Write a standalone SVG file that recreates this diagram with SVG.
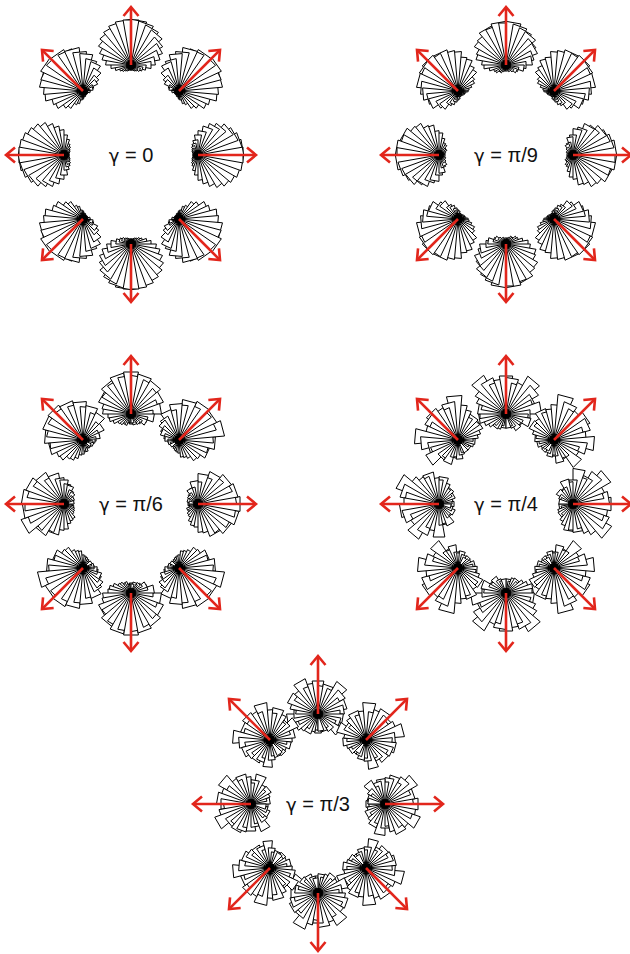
<svg xmlns="http://www.w3.org/2000/svg" xmlns:xlink="http://www.w3.org/1999/xlink" width="630" height="954" viewBox="0 0 630 954">
<style>
.w{fill:#fff;stroke:#000;stroke-width:1;vector-effect:non-scaling-stroke;stroke-linejoin:bevel}
.c{fill:#000}
.arr{fill:none;stroke:#e2261c;stroke-width:2.6;stroke-linecap:butt;stroke-linejoin:miter}
.lab{font-family:"Liberation Sans",Arial,sans-serif;font-size:20px;fill:#111;text-anchor:middle}
.g{font-family:"DejaVu Sans",sans-serif;font-size:18px}
</style>
<defs>
<polygon id="w" class="w" points="0,0 -0.1763,-1 0.1763,-1"/>
<g id="arr" class="arr"><line x1="0" y1="0" x2="0" y2="-57"/><polyline points="-7.5,-49 0,-58 7.5,-49"/></g>

<g id="g0a">
<use href="#w" transform="rotate(-180) scale(5)"/><use href="#w" transform="rotate(-170) scale(5)"/><use href="#w" transform="rotate(-160) scale(5)"/><use href="#w" transform="rotate(-150) scale(6)"/><use href="#w" transform="rotate(-140) scale(7)"/><use href="#w" transform="rotate(-130) scale(8)"/><use href="#w" transform="rotate(-120) scale(10)"/><use href="#w" transform="rotate(-110) scale(12)"/><use href="#w" transform="rotate(-100) scale(16)"/><use href="#w" transform="rotate(-90) scale(20)"/><use href="#w" transform="rotate(-80) scale(25)"/><use href="#w" transform="rotate(-70) scale(29)"/><use href="#w" transform="rotate(-60) scale(33)"/><use href="#w" transform="rotate(-50) scale(37)"/><use href="#w" transform="rotate(-40) scale(40)"/><use href="#w" transform="rotate(-30) scale(42)"/><use href="#w" transform="rotate(-20) scale(44)"/><use href="#w" transform="rotate(-10) scale(45)"/><use href="#w" transform="rotate(0) scale(45)"/><use href="#w" transform="rotate(10) scale(45)"/><use href="#w" transform="rotate(20) scale(44)"/><use href="#w" transform="rotate(30) scale(42)"/><use href="#w" transform="rotate(40) scale(40)"/><use href="#w" transform="rotate(50) scale(36)"/><use href="#w" transform="rotate(60) scale(33)"/><use href="#w" transform="rotate(70) scale(29)"/><use href="#w" transform="rotate(80) scale(24)"/><use href="#w" transform="rotate(90) scale(20)"/><use href="#w" transform="rotate(100) scale(15)"/><use href="#w" transform="rotate(110) scale(12)"/><use href="#w" transform="rotate(120) scale(10)"/><use href="#w" transform="rotate(130) scale(8)"/><use href="#w" transform="rotate(140) scale(7)"/><use href="#w" transform="rotate(150) scale(6)"/><use href="#w" transform="rotate(160) scale(5)"/><use href="#w" transform="rotate(170) scale(5)"/>
<circle class="c" r="5"/>
</g>
<g id="g0b">
<use href="#w" transform="rotate(-180) scale(4)"/><use href="#w" transform="rotate(-170) scale(5)"/><use href="#w" transform="rotate(-160) scale(5)"/><use href="#w" transform="rotate(-150) scale(6)"/><use href="#w" transform="rotate(-140) scale(6)"/><use href="#w" transform="rotate(-130) scale(8)"/><use href="#w" transform="rotate(-120) scale(9)"/><use href="#w" transform="rotate(-110) scale(13)"/><use href="#w" transform="rotate(-100) scale(15)"/><use href="#w" transform="rotate(-90) scale(21)"/><use href="#w" transform="rotate(-80) scale(24)"/><use href="#w" transform="rotate(-70) scale(30)"/><use href="#w" transform="rotate(-60) scale(32)"/><use href="#w" transform="rotate(-50) scale(38)"/><use href="#w" transform="rotate(-40) scale(39)"/><use href="#w" transform="rotate(-30) scale(43)"/><use href="#w" transform="rotate(-20) scale(43)"/><use href="#w" transform="rotate(-10) scale(46)"/><use href="#w" transform="rotate(0) scale(44)"/><use href="#w" transform="rotate(10) scale(45)"/><use href="#w" transform="rotate(20) scale(43)"/><use href="#w" transform="rotate(30) scale(43)"/><use href="#w" transform="rotate(40) scale(39)"/><use href="#w" transform="rotate(50) scale(37)"/><use href="#w" transform="rotate(60) scale(32)"/><use href="#w" transform="rotate(70) scale(30)"/><use href="#w" transform="rotate(80) scale(25)"/><use href="#w" transform="rotate(90) scale(19)"/><use href="#w" transform="rotate(100) scale(16)"/><use href="#w" transform="rotate(110) scale(11)"/><use href="#w" transform="rotate(120) scale(10)"/><use href="#w" transform="rotate(130) scale(7)"/><use href="#w" transform="rotate(140) scale(7)"/><use href="#w" transform="rotate(150) scale(5)"/><use href="#w" transform="rotate(160) scale(5)"/><use href="#w" transform="rotate(170) scale(4)"/>
<circle class="c" r="5"/>
</g>

<g id="g1a">
<use href="#w" transform="rotate(-180) scale(6)"/><use href="#w" transform="rotate(-170) scale(6)"/><use href="#w" transform="rotate(-160) scale(7)"/><use href="#w" transform="rotate(-150) scale(7)"/><use href="#w" transform="rotate(-140) scale(8)"/><use href="#w" transform="rotate(-130) scale(10)"/><use href="#w" transform="rotate(-120) scale(11)"/><use href="#w" transform="rotate(-110) scale(14)"/><use href="#w" transform="rotate(-100) scale(18)"/><use href="#w" transform="rotate(-90) scale(20)"/><use href="#w" transform="rotate(-80) scale(26)"/><use href="#w" transform="rotate(-70) scale(28)"/><use href="#w" transform="rotate(-60) scale(33)"/><use href="#w" transform="rotate(-50) scale(34)"/><use href="#w" transform="rotate(-40) scale(39)"/><use href="#w" transform="rotate(-30) scale(40)"/><use href="#w" transform="rotate(-20) scale(42)"/><use href="#w" transform="rotate(-10) scale(41)"/><use href="#w" transform="rotate(0) scale(43)"/><use href="#w" transform="rotate(10) scale(42)"/><use href="#w" transform="rotate(20) scale(40)"/><use href="#w" transform="rotate(30) scale(41)"/><use href="#w" transform="rotate(40) scale(37)"/><use href="#w" transform="rotate(50) scale(35)"/><use href="#w" transform="rotate(60) scale(31)"/><use href="#w" transform="rotate(70) scale(30)"/><use href="#w" transform="rotate(80) scale(24)"/><use href="#w" transform="rotate(90) scale(22)"/><use href="#w" transform="rotate(100) scale(16)"/><use href="#w" transform="rotate(110) scale(14)"/><use href="#w" transform="rotate(120) scale(11)"/><use href="#w" transform="rotate(130) scale(9)"/><use href="#w" transform="rotate(140) scale(8)"/><use href="#w" transform="rotate(150) scale(6)"/><use href="#w" transform="rotate(160) scale(6)"/><use href="#w" transform="rotate(170) scale(5)"/>
<circle class="c" r="5"/>
</g>
<g id="g1b">
<use href="#w" transform="rotate(-180) scale(5)"/><use href="#w" transform="rotate(-170) scale(6)"/><use href="#w" transform="rotate(-160) scale(6)"/><use href="#w" transform="rotate(-150) scale(7)"/><use href="#w" transform="rotate(-140) scale(9)"/><use href="#w" transform="rotate(-130) scale(9)"/><use href="#w" transform="rotate(-120) scale(12)"/><use href="#w" transform="rotate(-110) scale(13)"/><use href="#w" transform="rotate(-100) scale(17)"/><use href="#w" transform="rotate(-90) scale(22)"/><use href="#w" transform="rotate(-80) scale(24)"/><use href="#w" transform="rotate(-70) scale(30)"/><use href="#w" transform="rotate(-60) scale(31)"/><use href="#w" transform="rotate(-50) scale(36)"/><use href="#w" transform="rotate(-40) scale(37)"/><use href="#w" transform="rotate(-30) scale(41)"/><use href="#w" transform="rotate(-20) scale(40)"/><use href="#w" transform="rotate(-10) scale(43)"/><use href="#w" transform="rotate(0) scale(42)"/><use href="#w" transform="rotate(10) scale(43)"/><use href="#w" transform="rotate(20) scale(41)"/><use href="#w" transform="rotate(30) scale(39)"/><use href="#w" transform="rotate(40) scale(38)"/><use href="#w" transform="rotate(50) scale(34)"/><use href="#w" transform="rotate(60) scale(33)"/><use href="#w" transform="rotate(70) scale(28)"/><use href="#w" transform="rotate(80) scale(26)"/><use href="#w" transform="rotate(90) scale(20)"/><use href="#w" transform="rotate(100) scale(18)"/><use href="#w" transform="rotate(110) scale(13)"/><use href="#w" transform="rotate(120) scale(12)"/><use href="#w" transform="rotate(130) scale(9)"/><use href="#w" transform="rotate(140) scale(7)"/><use href="#w" transform="rotate(150) scale(7)"/><use href="#w" transform="rotate(160) scale(5)"/><use href="#w" transform="rotate(170) scale(6)"/>
<circle class="c" r="5"/>
</g>

<g id="g2a">
<use href="#w" transform="rotate(-180) scale(9)"/><use href="#w" transform="rotate(-170) scale(8)"/><use href="#w" transform="rotate(-160) scale(10)"/><use href="#w" transform="rotate(-150) scale(11)"/><use href="#w" transform="rotate(-140) scale(12)"/><use href="#w" transform="rotate(-130) scale(13)"/><use href="#w" transform="rotate(-120) scale(17)"/><use href="#w" transform="rotate(-110) scale(18)"/><use href="#w" transform="rotate(-100) scale(20)"/><use href="#w" transform="rotate(-90) scale(25)"/><use href="#w" transform="rotate(-80) scale(26)"/><use href="#w" transform="rotate(-70) scale(31)"/><use href="#w" transform="rotate(-60) scale(30)"/><use href="#w" transform="rotate(-50) scale(36)"/><use href="#w" transform="rotate(-40) scale(34)"/><use href="#w" transform="rotate(-30) scale(45)"/><use href="#w" transform="rotate(-20) scale(38)"/><use href="#w" transform="rotate(-10) scale(41)"/><use href="#w" transform="rotate(0) scale(39)"/><use href="#w" transform="rotate(10) scale(42)"/><use href="#w" transform="rotate(20) scale(37)"/><use href="#w" transform="rotate(30) scale(40)"/><use href="#w" transform="rotate(40) scale(35)"/><use href="#w" transform="rotate(50) scale(36)"/><use href="#w" transform="rotate(60) scale(30)"/><use href="#w" transform="rotate(70) scale(31)"/><use href="#w" transform="rotate(80) scale(26)"/><use href="#w" transform="rotate(90) scale(24)"/><use href="#w" transform="rotate(100) scale(20)"/><use href="#w" transform="rotate(110) scale(19)"/><use href="#w" transform="rotate(120) scale(15)"/><use href="#w" transform="rotate(130) scale(14)"/><use href="#w" transform="rotate(140) scale(11)"/><use href="#w" transform="rotate(150) scale(11)"/><use href="#w" transform="rotate(160) scale(9)"/><use href="#w" transform="rotate(170) scale(10)"/>
<circle class="c" r="5"/>
</g>
<g id="g2b">
<use href="#w" transform="rotate(-180) scale(10)"/><use href="#w" transform="rotate(-170) scale(9)"/><use href="#w" transform="rotate(-160) scale(9)"/><use href="#w" transform="rotate(-150) scale(12)"/><use href="#w" transform="rotate(-140) scale(11)"/><use href="#w" transform="rotate(-130) scale(14)"/><use href="#w" transform="rotate(-120) scale(15)"/><use href="#w" transform="rotate(-110) scale(19)"/><use href="#w" transform="rotate(-100) scale(22)"/><use href="#w" transform="rotate(-90) scale(23)"/><use href="#w" transform="rotate(-80) scale(28)"/><use href="#w" transform="rotate(-70) scale(29)"/><use href="#w" transform="rotate(-60) scale(34)"/><use href="#w" transform="rotate(-50) scale(33)"/><use href="#w" transform="rotate(-40) scale(38)"/><use href="#w" transform="rotate(-30) scale(36)"/><use href="#w" transform="rotate(-20) scale(41)"/><use href="#w" transform="rotate(-10) scale(38)"/><use href="#w" transform="rotate(0) scale(42)"/><use href="#w" transform="rotate(10) scale(38)"/><use href="#w" transform="rotate(20) scale(40)"/><use href="#w" transform="rotate(30) scale(36)"/><use href="#w" transform="rotate(40) scale(38)"/><use href="#w" transform="rotate(50) scale(33)"/><use href="#w" transform="rotate(60) scale(34)"/><use href="#w" transform="rotate(70) scale(28)"/><use href="#w" transform="rotate(80) scale(30)"/><use href="#w" transform="rotate(90) scale(22)"/><use href="#w" transform="rotate(100) scale(23)"/><use href="#w" transform="rotate(110) scale(17)"/><use href="#w" transform="rotate(120) scale(17)"/><use href="#w" transform="rotate(130) scale(13)"/><use href="#w" transform="rotate(140) scale(12)"/><use href="#w" transform="rotate(150) scale(10)"/><use href="#w" transform="rotate(160) scale(11)"/><use href="#w" transform="rotate(170) scale(9)"/>
<circle class="c" r="5"/>
</g>

<g id="g3a">
<use href="#w" transform="rotate(-180) scale(13)"/><use href="#w" transform="rotate(-170) scale(14)"/><use href="#w" transform="rotate(-160) scale(12)"/><use href="#w" transform="rotate(-150) scale(16)"/><use href="#w" transform="rotate(-140) scale(17)"/><use href="#w" transform="rotate(-130) scale(15)"/><use href="#w" transform="rotate(-120) scale(20)"/><use href="#w" transform="rotate(-110) scale(23)"/><use href="#w" transform="rotate(-100) scale(27)"/><use href="#w" transform="rotate(-90) scale(26)"/><use href="#w" transform="rotate(-80) scale(28)"/><use href="#w" transform="rotate(-70) scale(25)"/><use href="#w" transform="rotate(-60) scale(31)"/><use href="#w" transform="rotate(-50) scale(35)"/><use href="#w" transform="rotate(-40) scale(44)"/><use href="#w" transform="rotate(-30) scale(38)"/><use href="#w" transform="rotate(-20) scale(33)"/><use href="#w" transform="rotate(-10) scale(35)"/><use href="#w" transform="rotate(0) scale(38)"/><use href="#w" transform="rotate(10) scale(36)"/><use href="#w" transform="rotate(20) scale(31)"/><use href="#w" transform="rotate(30) scale(33)"/><use href="#w" transform="rotate(40) scale(43)"/><use href="#w" transform="rotate(50) scale(37)"/><use href="#w" transform="rotate(60) scale(30)"/><use href="#w" transform="rotate(70) scale(28)"/><use href="#w" transform="rotate(80) scale(35)"/><use href="#w" transform="rotate(90) scale(24)"/><use href="#w" transform="rotate(100) scale(22)"/><use href="#w" transform="rotate(110) scale(25)"/><use href="#w" transform="rotate(120) scale(18)"/><use href="#w" transform="rotate(130) scale(17)"/><use href="#w" transform="rotate(140) scale(19)"/><use href="#w" transform="rotate(150) scale(15)"/><use href="#w" transform="rotate(160) scale(13)"/><use href="#w" transform="rotate(170) scale(14)"/>
<circle class="c" r="5"/>
</g>
<g id="g3b">
<use href="#w" transform="rotate(-180) scale(15)"/><use href="#w" transform="rotate(-170) scale(13)"/><use href="#w" transform="rotate(-160) scale(14)"/><use href="#w" transform="rotate(-150) scale(17)"/><use href="#w" transform="rotate(-140) scale(15)"/><use href="#w" transform="rotate(-130) scale(19)"/><use href="#w" transform="rotate(-120) scale(18)"/><use href="#w" transform="rotate(-110) scale(22)"/><use href="#w" transform="rotate(-100) scale(27)"/><use href="#w" transform="rotate(-90) scale(24)"/><use href="#w" transform="rotate(-80) scale(26)"/><use href="#w" transform="rotate(-70) scale(32)"/><use href="#w" transform="rotate(-60) scale(29)"/><use href="#w" transform="rotate(-50) scale(31)"/><use href="#w" transform="rotate(-40) scale(35)"/><use href="#w" transform="rotate(-30) scale(45)"/><use href="#w" transform="rotate(-20) scale(39)"/><use href="#w" transform="rotate(-10) scale(34)"/><use href="#w" transform="rotate(0) scale(35)"/><use href="#w" transform="rotate(10) scale(39)"/><use href="#w" transform="rotate(20) scale(37)"/><use href="#w" transform="rotate(30) scale(30)"/><use href="#w" transform="rotate(40) scale(32)"/><use href="#w" transform="rotate(50) scale(40)"/><use href="#w" transform="rotate(60) scale(33)"/><use href="#w" transform="rotate(70) scale(26)"/><use href="#w" transform="rotate(80) scale(27)"/><use href="#w" transform="rotate(90) scale(33)"/><use href="#w" transform="rotate(100) scale(21)"/><use href="#w" transform="rotate(110) scale(20)"/><use href="#w" transform="rotate(120) scale(23)"/><use href="#w" transform="rotate(130) scale(16)"/><use href="#w" transform="rotate(140) scale(15)"/><use href="#w" transform="rotate(150) scale(17)"/><use href="#w" transform="rotate(160) scale(14)"/><use href="#w" transform="rotate(170) scale(12)"/>
<circle class="c" r="5"/>
</g>

<g id="g4a">
<use href="#w" transform="rotate(-180) scale(17)"/><use href="#w" transform="rotate(-170) scale(19)"/><use href="#w" transform="rotate(-160) scale(16)"/><use href="#w" transform="rotate(-150) scale(20)"/><use href="#w" transform="rotate(-140) scale(23)"/><use href="#w" transform="rotate(-130) scale(19)"/><use href="#w" transform="rotate(-120) scale(22)"/><use href="#w" transform="rotate(-110) scale(30)"/><use href="#w" transform="rotate(-100) scale(24)"/><use href="#w" transform="rotate(-90) scale(21)"/><use href="#w" transform="rotate(-80) scale(27)"/><use href="#w" transform="rotate(-70) scale(30)"/><use href="#w" transform="rotate(-60) scale(26)"/><use href="#w" transform="rotate(-50) scale(29)"/><use href="#w" transform="rotate(-40) scale(37)"/><use href="#w" transform="rotate(-30) scale(28)"/><use href="#w" transform="rotate(-20) scale(31)"/><use href="#w" transform="rotate(-10) scale(34)"/><use href="#w" transform="rotate(0) scale(30)"/><use href="#w" transform="rotate(10) scale(27)"/><use href="#w" transform="rotate(20) scale(32)"/><use href="#w" transform="rotate(30) scale(38)"/><use href="#w" transform="rotate(40) scale(29)"/><use href="#w" transform="rotate(50) scale(26)"/><use href="#w" transform="rotate(60) scale(30)"/><use href="#w" transform="rotate(70) scale(28)"/><use href="#w" transform="rotate(80) scale(24)"/><use href="#w" transform="rotate(90) scale(27)"/><use href="#w" transform="rotate(100) scale(23)"/><use href="#w" transform="rotate(110) scale(20)"/><use href="#w" transform="rotate(120) scale(29)"/><use href="#w" transform="rotate(130) scale(21)"/><use href="#w" transform="rotate(140) scale(18)"/><use href="#w" transform="rotate(150) scale(20)"/><use href="#w" transform="rotate(160) scale(17)"/><use href="#w" transform="rotate(170) scale(15)"/>
<circle class="c" r="5"/>
</g>
<g id="g4b">
<use href="#w" transform="rotate(-180) scale(19)"/><use href="#w" transform="rotate(-170) scale(16)"/><use href="#w" transform="rotate(-160) scale(18)"/><use href="#w" transform="rotate(-150) scale(21)"/><use href="#w" transform="rotate(-140) scale(17)"/><use href="#w" transform="rotate(-130) scale(22)"/><use href="#w" transform="rotate(-120) scale(25)"/><use href="#w" transform="rotate(-110) scale(21)"/><use href="#w" transform="rotate(-100) scale(31)"/><use href="#w" transform="rotate(-90) scale(24)"/><use href="#w" transform="rotate(-80) scale(22)"/><use href="#w" transform="rotate(-70) scale(28)"/><use href="#w" transform="rotate(-60) scale(32)"/><use href="#w" transform="rotate(-50) scale(27)"/><use href="#w" transform="rotate(-40) scale(30)"/><use href="#w" transform="rotate(-30) scale(37)"/><use href="#w" transform="rotate(-20) scale(29)"/><use href="#w" transform="rotate(-10) scale(31)"/><use href="#w" transform="rotate(0) scale(33)"/><use href="#w" transform="rotate(10) scale(28)"/><use href="#w" transform="rotate(20) scale(30)"/><use href="#w" transform="rotate(30) scale(27)"/><use href="#w" transform="rotate(40) scale(37)"/><use href="#w" transform="rotate(50) scale(31)"/><use href="#w" transform="rotate(60) scale(25)"/><use href="#w" transform="rotate(70) scale(29)"/><use href="#w" transform="rotate(80) scale(26)"/><use href="#w" transform="rotate(90) scale(22)"/><use href="#w" transform="rotate(100) scale(25)"/><use href="#w" transform="rotate(110) scale(23)"/><use href="#w" transform="rotate(120) scale(19)"/><use href="#w" transform="rotate(130) scale(27)"/><use href="#w" transform="rotate(140) scale(20)"/><use href="#w" transform="rotate(150) scale(16)"/><use href="#w" transform="rotate(160) scale(18)"/><use href="#w" transform="rotate(170) scale(17)"/>
<circle class="c" r="5"/>
</g>
</defs>

<rect width="630" height="954" fill="#fff"/>

<g id="panel1" transform="translate(131,155)">
<text class="lab" x="0" y="7"><tspan class="g">γ</tspan> = 0</text>
<g id="p1-top" transform="translate(0,-90)"><use href="#g0a"/><use href="#arr"/></g>
<g id="p1-ur" transform="translate(48,-64) rotate(45)"><use href="#g0b" transform="scale(-1,1)"/><use href="#arr"/></g>
<g id="p1-r" transform="translate(67,0) rotate(90)"><use href="#g0a" transform="scale(-1,1)"/><use href="#arr"/></g>
<g id="p1-lr" transform="translate(48,64) rotate(135)"><use href="#g0b"/><use href="#arr"/></g>
<g id="p1-b" transform="translate(0,89) rotate(180)"><use href="#g0a"/><use href="#arr"/></g>
<g id="p1-ll" transform="translate(-48,64) rotate(225)"><use href="#g0b" transform="scale(-1,1)"/><use href="#arr"/></g>
<g id="p1-l" transform="translate(-67,0) rotate(270)"><use href="#g0a" transform="scale(-1,1)"/><use href="#arr"/></g>
<g id="p1-ul" transform="translate(-48,-64) rotate(315)"><use href="#g0b"/><use href="#arr"/></g>
</g>

<g id="panel2" transform="translate(506,155)">
<text class="lab" x="0" y="7"><tspan class="g">γ</tspan> = π/9</text>
<g id="p2-top" transform="translate(0,-90)"><use href="#g1b"/><use href="#arr"/></g>
<g id="p2-ur" transform="translate(48,-64) rotate(45)"><use href="#g1a"/><use href="#arr"/></g>
<g id="p2-r" transform="translate(67,0) rotate(90)"><use href="#g1b" transform="scale(-1,1)"/><use href="#arr"/></g>
<g id="p2-lr" transform="translate(48,64) rotate(135)"><use href="#g1a" transform="scale(-1,1)"/><use href="#arr"/></g>
<g id="p2-b" transform="translate(0,89) rotate(180)"><use href="#g1b"/><use href="#arr"/></g>
<g id="p2-ll" transform="translate(-48,64) rotate(225)"><use href="#g1a"/><use href="#arr"/></g>
<g id="p2-l" transform="translate(-67,0) rotate(270)"><use href="#g1b" transform="scale(-1,1)"/><use href="#arr"/></g>
<g id="p2-ul" transform="translate(-48,-64) rotate(315)"><use href="#g1a" transform="scale(-1,1)"/><use href="#arr"/></g>
</g>

<g id="panel3" transform="translate(131,504)">
<text class="lab" x="0" y="7"><tspan class="g">γ</tspan> = π/6</text>
<g id="p3-top" transform="translate(0,-90)"><use href="#g2b"/><use href="#arr"/></g>
<g id="p3-ur" transform="translate(48,-64) rotate(45)"><use href="#g2a" transform="scale(-1,1)"/><use href="#arr"/></g>
<g id="p3-r" transform="translate(67,0) rotate(90)"><use href="#g2b" transform="scale(-1,1)"/><use href="#arr"/></g>
<g id="p3-lr" transform="translate(48,64) rotate(135)"><use href="#g2a"/><use href="#arr"/></g>
<g id="p3-b" transform="translate(0,89) rotate(180)"><use href="#g2b" transform="scale(-1,1)"/><use href="#arr"/></g>
<g id="p3-ll" transform="translate(-48,64) rotate(225)"><use href="#g2a" transform="scale(-1,1)"/><use href="#arr"/></g>
<g id="p3-l" transform="translate(-67,0) rotate(270)"><use href="#g2a"/><use href="#arr"/></g>
<g id="p3-ul" transform="translate(-48,-64) rotate(315)"><use href="#g2b"/><use href="#arr"/></g>
</g>

<g id="panel4" transform="translate(506,504)">
<text class="lab" x="0" y="7"><tspan class="g">γ</tspan> = π/4</text>
<g id="p4-top" transform="translate(0,-90)"><use href="#g3a"/><use href="#arr"/></g>
<g id="p4-ur" transform="translate(48,-64) rotate(45)"><use href="#g3b"/><use href="#arr"/></g>
<g id="p4-r" transform="translate(67,0) rotate(90)"><use href="#g3a" transform="scale(-1,1)"/><use href="#arr"/></g>
<g id="p4-lr" transform="translate(48,64) rotate(135)"><use href="#g3b" transform="scale(-1,1)"/><use href="#arr"/></g>
<g id="p4-b" transform="translate(0,89) rotate(180)"><use href="#g3a"/><use href="#arr"/></g>
<g id="p4-ll" transform="translate(-48,64) rotate(225)"><use href="#g3b"/><use href="#arr"/></g>
<g id="p4-l" transform="translate(-67,0) rotate(270)"><use href="#g3b" transform="scale(-1,1)"/><use href="#arr"/></g>
<g id="p4-ul" transform="translate(-48,-64) rotate(315)"><use href="#g3a" transform="scale(-1,1)"/><use href="#arr"/></g>
</g>

<g id="panel5" transform="translate(318,804)">
<text class="lab" x="0" y="7"><tspan class="g">γ</tspan> = π/3</text>
<g id="p5-top" transform="translate(0,-90)"><use href="#g4b"/><use href="#arr"/></g>
<g id="p5-ur" transform="translate(48,-64) rotate(45)"><use href="#g4a"/><use href="#arr"/></g>
<g id="p5-r" transform="translate(67,0) rotate(90)"><use href="#g4b" transform="scale(-1,1)"/><use href="#arr"/></g>
<g id="p5-lr" transform="translate(48,64) rotate(135)"><use href="#g4a" transform="scale(-1,1)"/><use href="#arr"/></g>
<g id="p5-b" transform="translate(0,89) rotate(180)"><use href="#g4a"/><use href="#arr"/></g>
<g id="p5-ll" transform="translate(-48,64) rotate(225)"><use href="#g4b"/><use href="#arr"/></g>
<g id="p5-l" transform="translate(-67,0) rotate(270)"><use href="#g4a" transform="scale(-1,1)"/><use href="#arr"/></g>
<g id="p5-ul" transform="translate(-48,-64) rotate(315)"><use href="#g4b" transform="scale(-1,1)"/><use href="#arr"/></g>
</g>
</svg>
